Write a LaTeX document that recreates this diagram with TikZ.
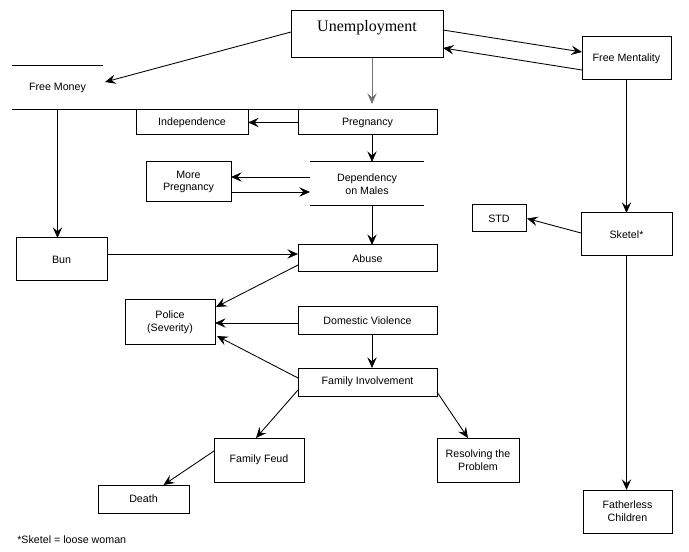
\documentclass[tikz,border=0pt]{standalone}
\usepackage{fontspec}
\setmainfont{Liberation Sans}
\newfontfamily\serifface{Liberation Serif}
\usetikzlibrary{arrows.meta,calc}
\begin{document}
\begin{tikzpicture}[x=0.75pt,y=-0.75pt,
  every node/.style={font=\fontsize{8}{9.5}\selectfont, inner sep=1pt, outer sep=0pt, align=center},
  box/.style={draw, line width=0.75pt, minimum width=#1*0.75pt},
  arr/.style={line width=0.65pt, -{Stealth[length=8pt,width=7pt,inset=3pt]}},
  edge/.style={line width=0.75pt}]
\useasboundingbox (0,0) rectangle (689,552);
\coordinate (ax) at (372,0);
% nodes
\node[box=152, minimum height=35.25pt,
      label={[anchor=north,yshift=-6pt,font=\serifface\fontsize{12}{14}\selectfont]north:Unemployment}]
      (unemp) at (367,34.5) {};
\node[box=89, minimum height=32.25pt] (fment) at (626.5,58.5) {Free Mentality};
\node[minimum width=68.25pt, minimum height=33pt] (fm) at (57.5,88) {Free Money};
\node[box=112, minimum height=18.75pt] (indep) at (192,122.5) {Independence};
\node[box=139, minimum height=18.75pt] (preg) at (367.5,122.5) {Pregnancy};
\node[box=85, minimum height=30pt] (morepreg) at (188.5,182) {More\\Pregnancy};
\node[minimum width=85.5pt, minimum height=33pt] (dep) at (367,184) {Dependency\\on Males};
\node[box=91, minimum height=32.25pt] (bun) at (61.5,259.5) {Bun};
\node[box=139, minimum height=20.25pt] (abuse) at (367.5,258.5) {Abuse};
\node[box=90, minimum height=33pt] (police) at (170,322) {Police\\(Severity)};
\node[box=139, minimum height=21pt] (dv) at (367.5,321) {Domestic Violence};
\node[box=139, minimum height=21pt] (fi) at (367.5,382) {Family Involvement};
\node[box=90, minimum height=33pt] (feud) at (259,460) {Family Feud};
\node[box=82, minimum height=33pt] (resolve) at (478,460) {Resolving the\\Problem};
\node[box=91, minimum height=21pt] (death) at (143.5,499) {Death};
\node[box=54, minimum height=20.25pt] (std) at (499,218.5) {STD};
\node[box=91, minimum height=32.25pt] (sketel) at (626.5,234.5) {Sketel*};
\node[box=89, minimum height=32.25pt] (father) at (627.5,511.5) {Fatherless\\Children};
\node[anchor=west] (note) at (16,540) {*Sketel = loose woman};
% rule lines
\draw[edge] (fm.north west) -- (fm.north east);
\draw[edge] (fm.south west) -- (preg.north east);
\draw[edge] (dep.north west) -- (dep.north east);
\draw[edge] (dep.south west) -- (dep.south east);
% connectors
\draw[arr] ($(unemp.west)+(0,-2.5)$) -- ($(fm.east)+(2,-6)$);
\draw[arr] ($(unemp.east)+(0,-4.5)$) -- ($(fment.west)+(0,-6.5)$);
\draw[arr] ($(fment.west)+(0,11.5)$) -- ($(unemp.east)+(0,13.5)$);
\draw[arr, draw=black!55] (unemp.south -| ax) -- ($(preg.north -| ax)+(0,-6)$);
\draw[arr] (preg.west) -- (indep.east);
\draw[arr] (preg.south -| ax) -- (dep.north -| ax);
\draw[arr] ($(dep.west)+(0,-7)$) coordinate (t1) -- (t1 -| morepreg.east);
\draw[arr] ($(morepreg.east)+(0,10)$) coordinate (t2) -- (t2 -| dep.west);
\draw[arr] (dep.south -| ax) -- (abuse.north -| ax);
\draw[arr] (fm.south) -- (bun.north -| fm.south);
\draw[arr] ($(bun.east)+(0,-5.5)$) coordinate (t3) -- (t3 -| abuse.west);
\draw[arr] ($(abuse.west)+(0,6.5)$) -- ($(police.east)+(1,-15)$);
\draw[arr] ($(dv.west)+(0,2)$) coordinate (t4) -- (t4 -| police.east);
\draw[arr] (dv.south -| ax) -- (fi.north -| ax);
\draw[arr] ($(fi.west)+(0,-4)$) -- ($(police.east)+(2,14)$);
\draw[arr] ($(fi.west)+(0,8)$) -- ($(feud.north)+(-3,0)$);
\draw[arr] ($(fi.east)+(0,10)$) -- ($(resolve.north)+(-10,0)$);
\draw[arr] ($(feud.west)+(0,-9)$) -- ($(death.north)+(20,0)$);
\draw[arr] (fment.south) -- (sketel.north);
\draw[arr] ($(sketel.west)+(0,-1.5)$) -- ($(std.east)+(1,0)$);
\draw[arr] (sketel.south) -- (father.north -| sketel.south);
\end{tikzpicture}
\end{document}
